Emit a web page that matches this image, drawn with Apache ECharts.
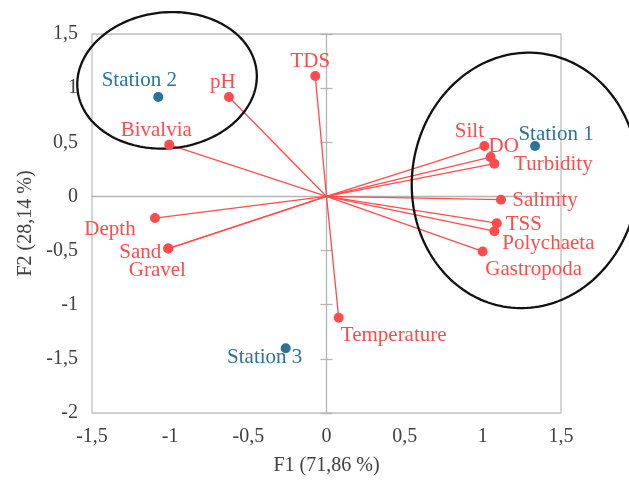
<!DOCTYPE html>
<html>
<head>
<meta charset="utf-8">
<script src="https://cdn.jsdelivr.net/npm/echarts@6/dist/echarts.min.js"></script>
<style>html,body{margin:0;padding:0;background:#fff;}#c{width:629px;height:482px;}</style>
</head>
<body>
<div id="c"></div>
<script>
// ---- Data ----
const varNames = ['pH','TDS','Bivalvia','Depth','Sand','Gravel','Temperature','Silt','DO','Turbidity','Salinity','TSS','Polychaeta','Gastropoda'];
const varF1 = [-0.624, -0.072, -1.006, -1.097, -1.012, -1.012, 0.078, 1.010, 1.050, 1.074, 1.116, 1.089, 1.074, 0.999];
const varF2 = [0.918, 1.112, 0.478, -0.200, -0.481, -0.481, -1.121, 0.465, 0.363, 0.302, -0.030, -0.247, -0.321, -0.508];
const stationNames = ['Station 1','Station 2','Station 3'];
const stationF1 = [1.334, -1.076, -0.261];
const stationF2 = [0.465, 0.918, -1.402];
const xTicks = [-1.5, -1, -0.5, 0, 0.5, 1, 1.5];
const yTicks = [-2, -1.5, -1, -0.5, 0, 0.5, 1, 1.5];

// ---- Styling (label offsets in px, text centre relative to point) ----
const varLabelOffsets = [[-6,-15],[-5,-15],[-13,-14],[-45,11],[-28,4],[-11,22],[55,18],[-15,-15],[13,-11],[59,1],[44,1],[27,1],[54,12],[51,18]];
const stationLabelOffsets = [[21,-12],[-19,-17],[-21,9]];
const RED = '#ff4b4b';
const BLUE = '#2b7398';
const FONT = 'Liberation Serif';
const AX = '#b4b4b4';
const fmt = v => String(v).replace('.', ',');

const chart = echarts.init(document.getElementById('c'));

const lineData = varNames.map((n, i) => ({ coords: [[0, 0], [varF1[i], varF2[i]]] }));
const varPts = varNames.map((n, i) => ({
  name: n, value: [varF1[i], varF2[i]],
  label: { offset: varLabelOffsets[i] }
}));
const stPts = stationNames.map((n, i) => ({
  name: n, value: [stationF1[i], stationF2[i]],
  label: { offset: stationLabelOffsets[i] }
}));

const xmin = xTicks[0], xmax = xTicks[xTicks.length - 1];
const ymin = yTicks[0], ymax = yTicks[yTicks.length - 1];

chart.setOption({
  animation: false,
  backgroundColor: '#fff',
  grid: { left: 92, right: 68, top: 34, bottom: 69, show: true, borderColor: '#bfbfbf', borderWidth: 1.3 },
  xAxis: [
    { type: 'value', min: xmin, max: xmax, interval: 0.5, position: 'bottom',
      axisLine: { show: false, onZero: false }, axisTick: { show: false }, splitLine: { show: false },
      axisLabel: { formatter: fmt, fontFamily: FONT, fontSize: 20, color: '#404040', margin: 14 },
      name: 'F1 (71,86 %)', nameLocation: 'middle', nameGap: 43,
      nameTextStyle: { fontFamily: FONT, fontSize: 20, color: '#404040' } },
    { type: 'value', min: xmin, max: xmax, interval: 0.5,
      axisLine: { show: true, onZero: true, lineStyle: { color: AX, width: 1.3 } },
      axisTick: { show: false }, axisLabel: { show: false }, splitLine: { show: false } }
  ],
  yAxis: [
    { type: 'value', min: ymin, max: ymax, interval: 0.5, position: 'left',
      axisLine: { show: false, onZero: false }, axisTick: { show: false }, splitLine: { show: false },
      axisLabel: { formatter: fmt, fontFamily: FONT, fontSize: 20, color: '#404040', margin: 14 },
      name: 'F2 (28,14 %)', nameLocation: 'middle', nameGap: 53,
      nameTextStyle: { fontFamily: FONT, fontSize: 20, color: '#404040' } },
    { type: 'value', min: ymin, max: ymax, interval: 0.5, position: 'left',
      axisLine: { show: true, onZero: true, lineStyle: { color: AX, width: 1.3 } },
      axisTick: { show: true, inside: false, length: 6, lineStyle: { color: AX, width: 1.3 } },
      axisLabel: { show: false }, splitLine: { show: false } },
    { type: 'value', min: ymin, max: ymax, interval: 0.5, position: 'left',
      axisLine: { show: false, onZero: true },
      axisTick: { show: true, inside: true, length: 6, lineStyle: { color: AX, width: 1.3 } },
      axisLabel: { show: false }, splitLine: { show: false } }
  ],
  series: [
    { type: 'lines', coordinateSystem: 'cartesian2d', xAxisIndex: 0, yAxisIndex: 0,
      data: lineData, lineStyle: { color: RED, width: 1.3, opacity: 1 }, silent: true, z: 2 },
    { type: 'scatter', xAxisIndex: 0, yAxisIndex: 0, data: varPts, symbolSize: 10,
      itemStyle: { color: RED, opacity: 1 }, z: 4,
      label: { show: true, position: 'inside', formatter: '{b}', color: RED, fontFamily: FONT, fontSize: 21,
               align: 'center', verticalAlign: 'middle' } },
    { type: 'scatter', xAxisIndex: 0, yAxisIndex: 0, data: stPts, symbolSize: 10,
      itemStyle: { color: BLUE, opacity: 1 }, z: 4,
      label: { show: true, position: 'inside', formatter: '{b}', color: BLUE, fontFamily: FONT, fontSize: 21,
               align: 'center', verticalAlign: 'middle' } }
  ]
});

// ---- Annotation ellipses (centre in data units, radii in px, rotation in degrees) ----
const ellipses = [
  { c: [-1.02, 1.072], rx: 90, ry: 68, rot: -6 },
  { c: [1.27, 0.148], rx: 113, ry: 128, rot: 8 }
];
const graphics = ellipses.map(e => {
  const p = chart.convertToPixel({ xAxisIndex: 0, yAxisIndex: 0 }, e.c);
  const th = e.rot * Math.PI / 180;
  const pts = [];
  for (let k = 0; k < 180; k++) {
    const t = k / 180 * 2 * Math.PI;
    const ax = e.rx * Math.cos(t), ay = e.ry * Math.sin(t);
    pts.push([p[0] + ax * Math.cos(th) - ay * Math.sin(th), p[1] + ax * Math.sin(th) + ay * Math.cos(th)]);
  }
  return { type: 'polygon', shape: { points: pts }, style: { fill: 'none', stroke: '#111', lineWidth: 2.3 }, z: 3, silent: true };
});
chart.setOption({ graphic: graphics });
</script>
</body>
</html>
